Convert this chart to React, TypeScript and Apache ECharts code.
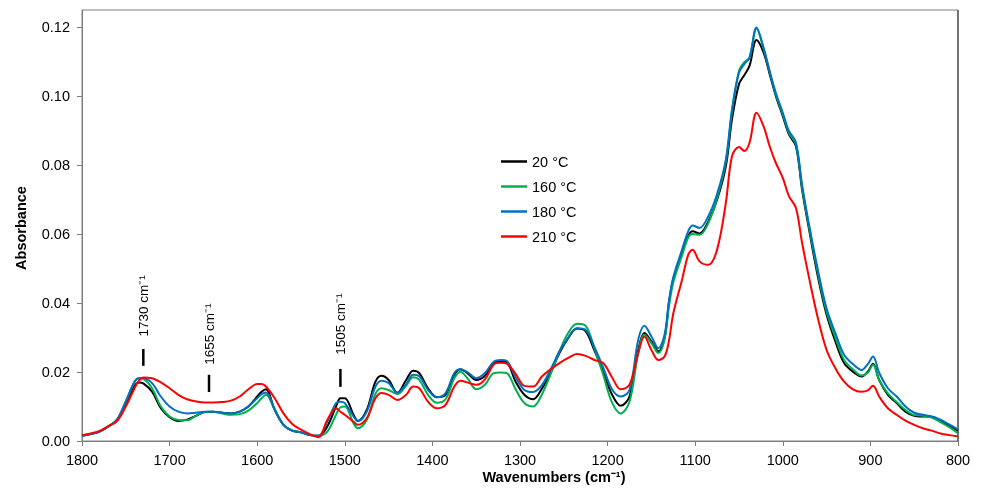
import React, { useEffect, useRef } from "react";
import * as echarts from "echarts";

// Wavenumbers (cm-1)
const wavenumbers = [
  1800, 1790, 1780, 1770, 1760, 1750, 1740, 1735, 1730, 1720,
  1710, 1700, 1690, 1680, 1670, 1660, 1650, 1640, 1630, 1620,
  1610, 1600, 1595, 1590, 1580, 1570, 1560, 1550, 1540, 1530,
  1520, 1510, 1505, 1500, 1490, 1485, 1475, 1465, 1458, 1450,
  1440, 1430, 1422, 1415, 1405, 1395, 1385, 1375, 1368, 1360,
  1350, 1340, 1330, 1322, 1315, 1305, 1295, 1285, 1275, 1265,
  1255, 1245, 1235, 1225, 1215, 1205, 1195, 1185, 1175, 1165,
  1158, 1150, 1142, 1135, 1130, 1125, 1115, 1108, 1103, 1095,
  1085, 1075, 1065, 1058, 1050, 1044, 1038, 1030, 1022, 1015,
  1008, 1000, 993, 985, 978, 970, 960, 950, 940, 930,
  920, 910, 903, 897, 890, 880, 870, 860, 850, 840,
  830, 820, 810, 800,
];

const abs20 = [
  0.0015, 0.0020, 0.0027, 0.0042, 0.0060, 0.0108, 0.0160, 0.0170, 0.0167, 0.0143,
  0.0095, 0.0069, 0.0058, 0.0062, 0.0073, 0.0084, 0.0085, 0.0082, 0.0080, 0.0085,
  0.0100, 0.0129, 0.0143, 0.0150, 0.0090, 0.0047, 0.0030, 0.0025, 0.0017, 0.0015,
  0.0042, 0.0100, 0.0124, 0.0124, 0.0076, 0.0058, 0.0090, 0.0172, 0.0189, 0.0177,
  0.0140, 0.0177, 0.0204, 0.0197, 0.0153, 0.0127, 0.0134, 0.0192, 0.0208, 0.0197,
  0.0177, 0.0189, 0.0226, 0.0231, 0.0228, 0.0172, 0.0134, 0.0121, 0.0152, 0.0198,
  0.0255, 0.0298, 0.0326, 0.0318, 0.0262, 0.0200, 0.0135, 0.0102, 0.0129, 0.0264,
  0.0313, 0.0289, 0.0260, 0.0299, 0.0400, 0.0470, 0.0545, 0.0594, 0.0608, 0.0602,
  0.0637, 0.0700, 0.0797, 0.0933, 0.1035, 0.1061, 0.1088, 0.1163, 0.1127, 0.1064,
  0.1001, 0.0942, 0.0889, 0.0855, 0.0729, 0.0613, 0.0477, 0.0366, 0.0289, 0.0226,
  0.0201, 0.0187, 0.0201, 0.0224, 0.0177, 0.0134, 0.0110, 0.0085, 0.0073, 0.0071,
  0.0070, 0.0059, 0.0044, 0.0030,
];

const abs160 = [
  0.0015, 0.0020, 0.0027, 0.0042, 0.0062, 0.0115, 0.0172, 0.0182, 0.0180, 0.0153,
  0.0100, 0.0071, 0.0061, 0.0060, 0.0073, 0.0084, 0.0085, 0.0080, 0.0076, 0.0078,
  0.0088, 0.0110, 0.0124, 0.0134, 0.0090, 0.0047, 0.0030, 0.0025, 0.0017, 0.0015,
  0.0027, 0.0076, 0.0098, 0.0100, 0.0051, 0.0037, 0.0061, 0.0137, 0.0153, 0.0148,
  0.0136, 0.0160, 0.0185, 0.0177, 0.0134, 0.0111, 0.0121, 0.0182, 0.0201, 0.0182,
  0.0150, 0.0163, 0.0197, 0.0199, 0.0197, 0.0150, 0.0110, 0.0100, 0.0135, 0.0194,
  0.0260, 0.0313, 0.0340, 0.0334, 0.0268, 0.0192, 0.0112, 0.0080, 0.0114, 0.0255,
  0.0308, 0.0284, 0.0255, 0.0294, 0.0390, 0.0460, 0.0538, 0.0590, 0.0600, 0.0598,
  0.0632, 0.0705, 0.0811, 0.0955, 0.1074, 0.1098, 0.1112, 0.1196, 0.1138, 0.1070,
  0.1005, 0.0947, 0.0894, 0.0860, 0.0736, 0.0620, 0.0487, 0.0375, 0.0300, 0.0235,
  0.0208, 0.0190, 0.0198, 0.0221, 0.0177, 0.0138, 0.0113, 0.0090, 0.0075, 0.0073,
  0.0068, 0.0055, 0.0040, 0.0022,
];

const abs180 = [
  0.0015, 0.0020, 0.0027, 0.0042, 0.0062, 0.0115, 0.0172, 0.0182, 0.0182, 0.0168,
  0.0129, 0.0100, 0.0085, 0.0080, 0.0082, 0.0085, 0.0085, 0.0082, 0.0080, 0.0085,
  0.0101, 0.0124, 0.0136, 0.0141, 0.0092, 0.0047, 0.0030, 0.0025, 0.0017, 0.0015,
  0.0056, 0.0110, 0.0114, 0.0110, 0.0071, 0.0058, 0.0085, 0.0158, 0.0175, 0.0168,
  0.0140, 0.0165, 0.0192, 0.0188, 0.0148, 0.0127, 0.0139, 0.0197, 0.0208, 0.0200,
  0.0182, 0.0197, 0.0230, 0.0235, 0.0232, 0.0185, 0.0148, 0.0142, 0.0162, 0.0208,
  0.0260, 0.0300, 0.0327, 0.0322, 0.0272, 0.0213, 0.0150, 0.0129, 0.0148, 0.0294,
  0.0334, 0.0303, 0.0269, 0.0308, 0.0405, 0.0475, 0.0555, 0.0608, 0.0625, 0.0618,
  0.0652, 0.0716, 0.0817, 0.0962, 0.1069, 0.1093, 0.1112, 0.1199, 0.1141, 0.1073,
  0.1010, 0.0952, 0.0899, 0.0866, 0.0743, 0.0627, 0.0497, 0.0384, 0.0313, 0.0250,
  0.0223, 0.0206, 0.0223, 0.0245, 0.0198, 0.0153, 0.0129, 0.0100, 0.0082, 0.0076,
  0.0071, 0.0062, 0.0048, 0.0034,
];

const abs210 = [
  0.0017, 0.0022, 0.0029, 0.0043, 0.0058, 0.0100, 0.0153, 0.0175, 0.0184, 0.0182,
  0.0170, 0.0153, 0.0134, 0.0121, 0.0115, 0.0112, 0.0112, 0.0113, 0.0117, 0.0129,
  0.0150, 0.0165, 0.0165, 0.0158, 0.0124, 0.0080, 0.0049, 0.0033, 0.0020, 0.0011,
  0.0061, 0.0095, 0.0085, 0.0076, 0.0056, 0.0047, 0.0066, 0.0124, 0.0139, 0.0134,
  0.0119, 0.0134, 0.0158, 0.0153, 0.0114, 0.0095, 0.0105, 0.0158, 0.0175, 0.0170,
  0.0163, 0.0179, 0.0222, 0.0227, 0.0224, 0.0195, 0.0160, 0.0158, 0.0187, 0.0208,
  0.0226, 0.0241, 0.0252, 0.0247, 0.0235, 0.0226, 0.0185, 0.0150, 0.0163, 0.0255,
  0.0303, 0.0264, 0.0235, 0.0245, 0.0290, 0.0370, 0.0468, 0.0540, 0.0555, 0.0521,
  0.0511, 0.0555, 0.0691, 0.0826, 0.0853, 0.0841, 0.0865, 0.0952, 0.0913, 0.0855,
  0.0807, 0.0763, 0.0710, 0.0676, 0.0575, 0.0473, 0.0357, 0.0264, 0.0211, 0.0172,
  0.0150, 0.0143, 0.0147, 0.0160, 0.0129, 0.0095, 0.0076, 0.0059, 0.0047, 0.0037,
  0.0030, 0.0022, 0.0017, 0.0013,
];

const seriesNames = ["20 °C", "160 °C", "180 °C", "210 °C"];
const seriesValues = [abs20, abs160, abs180, abs210];
const seriesColors = ["#000000", "#00b050", "#0070c0", "#ff0000"];

const yTickValues = [0, 0.02, 0.04, 0.06, 0.08, 0.1, 0.12];

// Band annotations
const annotWavenumbers = [1730, 1655, 1505];
const annotLabels = ["1730 cm⁻¹", "1655 cm⁻¹", "1505 cm⁻¹"];
const annotLineTop = [0.0267, 0.0192, 0.0209];
const annotLineBottom = [0.0218, 0.0142, 0.0157];
const annotLabelBase = [0.0303, 0.0221, 0.0250];

const FONT = "'Liberation Sans', Arial, Helvetica, sans-serif";
const FS = 14.5;

export default function App() {
  const ref = useRef<HTMLDivElement>(null);

  useEffect(() => {
    if (!ref.current) return;
    const chart = echarts.init(ref.current, null, { renderer: "svg" });

    const series = seriesNames.map((name, si) => ({
      name,
      type: "line",
      data: wavenumbers.map((w, i) => [w, seriesValues[si][i]]),
      symbol: "none",
      showSymbol: false,
      smooth: 0.35,
      lineStyle: { color: seriesColors[si], width: 2 },
      itemStyle: { color: seriesColors[si] },
      z: 2 + si,
    }));

    chart.setOption({
      animation: false,
      textStyle: { fontFamily: FONT },
      grid: {
        left: 82,
        right: 24,
        top: 10,
        bottom: 53,
        show: true,
        borderColor: "#7f7f7f",
        borderWidth: 1,
        containLabel: false,
      },
      legend: {
        orient: "vertical",
        left: 496,
        top: 148,
        icon: "rect",
        itemWidth: 26,
        itemHeight: 2.5,
        itemGap: 8,
        textStyle: { fontSize: FS, color: "#000", fontFamily: FONT, lineHeight: 17 },
        data: seriesNames.map((n, i) => ({ name: n, itemStyle: { color: seriesColors[i] } })),
      },
      xAxis: {
        type: "value",
        min: 800,
        max: 1800,
        interval: 100,
        inverse: true,
        axisLine: { show: true, lineStyle: { color: "#7f7f7f", width: 1 } },
        axisTick: { show: true, inside: false, length: 5, lineStyle: { color: "#7f7f7f" } },
        axisLabel: {
          fontSize: FS,
          color: "#000",
          margin: 11,
          fontFamily: FONT,
          formatter: (v: number) => String(v),
        },
        splitLine: { show: false },
      },
      yAxis: {
        type: "value",
        min: 0,
        max: 0.125,
        interval: 0.02,
        axisLine: { show: true, lineStyle: { color: "#7f7f7f", width: 1 } },
        axisTick: {
          show: true,
          length: 5,
          lineStyle: { color: "#7f7f7f" },
          customValues: yTickValues,
        },
        axisLabel: {
          fontSize: FS,
          color: "#000",
          margin: 12,
          fontFamily: FONT,
          customValues: yTickValues,
          formatter: (v: number) => (v > 0.1205 ? "" : v.toFixed(2)),
        },
        splitLine: { show: false },
      },
      series,
    });

    const graphics: any[] = [];
    annotWavenumbers.forEach((w, i) => {
      const pTop = chart.convertToPixel({ xAxisIndex: 0, yAxisIndex: 0 }, [w, annotLineTop[i]]);
      const pBot = chart.convertToPixel({ xAxisIndex: 0, yAxisIndex: 0 }, [w, annotLineBottom[i]]);
      const pLab = chart.convertToPixel({ xAxisIndex: 0, yAxisIndex: 0 }, [w, annotLabelBase[i]]);
      graphics.push({
        type: "line",
        shape: { x1: pTop[0], y1: pTop[1], x2: pBot[0], y2: pBot[1] },
        style: { stroke: "#000", lineWidth: 2.5 },
        z: 10,
      });
      graphics.push({
        type: "text",
        x: pLab[0],
        y: pLab[1],
        rotation: Math.PI / 2,
        style: {
          text: annotLabels[i],
          fill: "#000",
          font: `13.5px ${FONT}`,
          align: "left",
          verticalAlign: "middle",
        },
        z: 10,
      });
    });
    graphics.push({
      type: "text",
      x: 21,
      y: 228,
      rotation: Math.PI / 2,
      style: {
        text: "Absorbance",
        fill: "#000",
        font: `bold ${FS}px ${FONT}`,
        align: "center",
        verticalAlign: "middle",
      },
    });
    graphics.push({
      type: "text",
      x: 554,
      y: 477,
      style: {
        text: "Wavenumbers (cm⁻¹)",
        fill: "#000",
        font: `bold ${FS}px ${FONT}`,
        align: "center",
        verticalAlign: "middle",
      },
    });
    graphics.push({
      type: "line",
      shape: { x1: 958, y1: 10, x2: 958, y2: 441 },
      style: { stroke: "#404040", lineWidth: 1.2 },
    });
    chart.setOption({ graphic: graphics });

    return () => chart.dispose();
  }, []);

  return (
    <div
      ref={ref}
      style={{ position: "fixed", left: 0, top: 0, width: 982, height: 494 }}
    />
  );
}
